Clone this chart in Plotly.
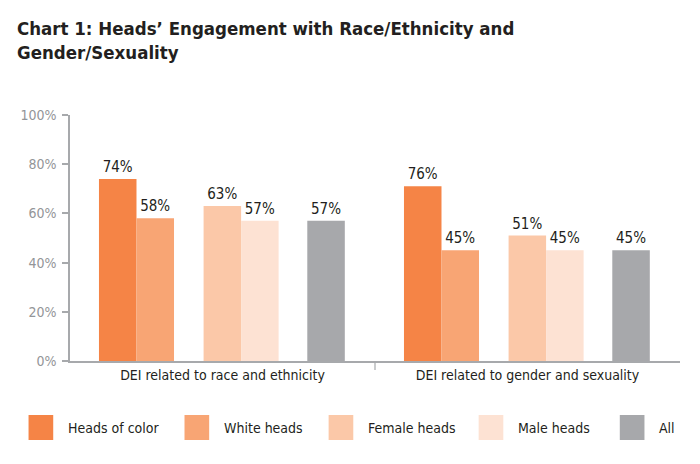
import plotly.graph_objects as go

# ---------------- data ----------------
categories = ["DEI related to race and ethnicity", "DEI related to gender and sexuality"]
series_names = ["Heads of color", "White heads", "Female heads", "Male heads", "All"]

# bar heights as drawn in the source picture (its 76% bar is drawn at ~71)
heads_of_color = [74, 71]
white_heads = [58, 45]
female_heads = [63, 51]
male_heads = [57, 45]
all_heads = [57, 45]

# value labels printed above the bars
heads_of_color_labels = ["74%", "76%"]
white_heads_labels = ["58%", "45%"]
female_heads_labels = ["63%", "51%"]
male_heads_labels = ["57%", "45%"]
all_heads_labels = ["57%", "45%"]

y_tick_values = [0, 20, 40, 60, 80, 100]
y_tick_labels = ["0%", "20%", "40%", "60%", "80%", "100%"]

title_text = "Chart 1: Heads\u2019 Engagement with Race/Ethnicity and<br>Gender/Sexuality"

# ---------------- style ----------------
FONT = "DejaVu Sans Condensed"
DARK = "#231f20"
AXIS = "#a7a9ac"
TICKTXT = "#939598"
colors = ["#f58446", "#f8a574", "#fbc8a8", "#fde2d3", "#a7a8ab"]
bar_offsets = [-0.405, -0.282, -0.062, 0.061, 0.278]   # left edge, category units
bar_width = 0.123

W, H = 700, 464
OFF = 8  # page body margin shifts the figure by 8px right and down
# wanted plot area in window pixels: x 62..680, y 115..361
ML, MR, MT, MB = 62 - OFF, W - (680 - OFF), 115 - OFF, H - (361 - OFF)
PW, PH = W - ML - MR, H - MT - MB

values = [heads_of_color, white_heads, female_heads, male_heads, all_heads]
labels = [heads_of_color_labels, white_heads_labels, female_heads_labels,
          male_heads_labels, all_heads_labels]

fig = go.Figure()
for name, vals, labs, col, off in zip(series_names, values, labels, colors, bar_offsets):
    fig.add_trace(go.Bar(
        x=categories, y=vals, name=name,
        marker=dict(color=col, line=dict(width=0)),
        offset=off, width=bar_width,
        text=labs, textposition="outside",
        outsidetextfont=dict(family=FONT, size=15, color=DARK),
        cliponaxis=False, showlegend=False,
        hovertemplate="%{x}<br>" + name + ": %{text}<extra></extra>",
    ))

# category divider tick below the axis
fig.add_shape(type="line", xref="x", yref="paper", x0=0.5, x1=0.5,
              y0=0, y1=-9 / PH, line=dict(color=AXIS, width=1.2))

# manual legend (large square swatches); positions in window pixels
def px_x(px):
    return (px - OFF - ML) / PW

def px_y(py):
    return (H - MB - (py - OFF)) / PH

swatch_x = [20, 178, 324, 476, 619]
swatch_size = 25
text_gap = 13
sw_top = 415
for name, col, sx in zip(series_names, colors, swatch_x):
    fig.add_shape(type="rect", xref="paper", yref="paper",
                  x0=px_x(sx), x1=px_x(sx + swatch_size),
                  y0=px_y(sw_top + swatch_size), y1=px_y(sw_top),
                  fillcolor=col, line=dict(width=0))
    fig.add_annotation(xref="paper", yref="paper",
                       x=px_x(sx + swatch_size + text_gap),
                       y=px_y(sw_top + swatch_size / 2),
                       xanchor="left", yanchor="middle", showarrow=False,
                       text=name, font=dict(family=FONT, size=14, color=DARK))

fig.update_layout(
    width=W, height=H,
    margin=dict(l=ML, r=MR, t=MT, b=MB),
    paper_bgcolor="white", plot_bgcolor="white",
    barmode="overlay",
    title=dict(text=title_text, x=(17 - OFF) / W, xanchor="left", xref="container",
               y=1 - 27 / H, yanchor="top", yref="container",
               pad=dict(l=0, r=0, t=0, b=0),
               font=dict(family=FONT, size=18.5, color=DARK, weight="bold")),
    xaxis=dict(type="category", range=[-0.5, 1.5], showline=True,
               linecolor=AXIS, linewidth=1.5, ticks="", showgrid=False,
               tickfont=dict(family=FONT, size=14, color=DARK)),
    yaxis=dict(range=[0, 100], tickvals=y_tick_values, ticktext=y_tick_labels,
               showline=True, linecolor=AXIS, linewidth=1.5,
               ticks="outside", ticklen=6, tickcolor=AXIS, tickwidth=1.5,
               ticklabelstandoff=3,
               showgrid=False, zeroline=False,
               tickfont=dict(family=FONT, size=14, color=TICKTXT)),
    font=dict(family=FONT),
)

fig.write_html("out.html")
